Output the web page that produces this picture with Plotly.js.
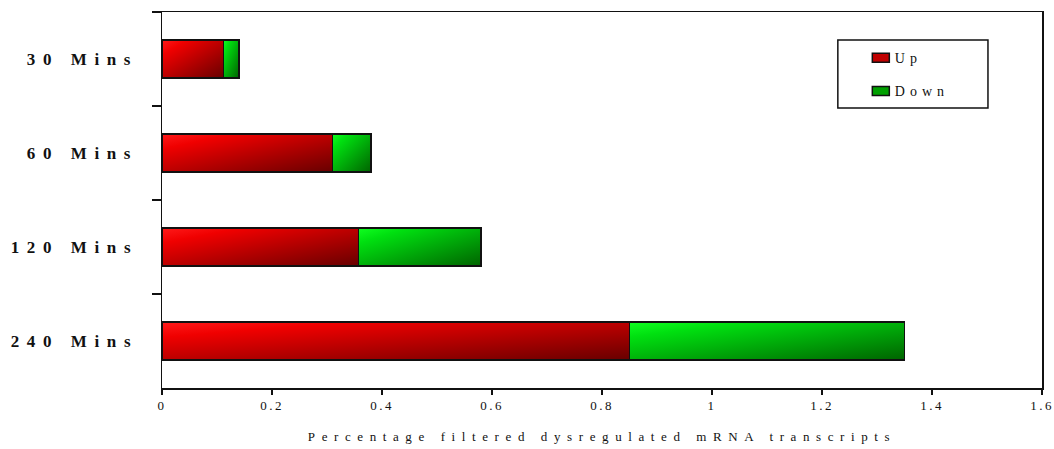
<!DOCTYPE html>
<html>
<head>
<meta charset="utf-8">
<script src="https://cdn.plot.ly/plotly-3.0.1.min.js"></script>
<style>
  html, body { margin: 0; padding: 0; background: #fff; }
  #chart { width: 1054px; height: 449px; }
  .ytick text { letter-spacing: 7.6px; }
  .xtick text { letter-spacing: 2.5px; }
  .xtitle { letter-spacing: 6.6px; }
  .legendtext { letter-spacing: 5px; }
</style>
</head>
<body>
<div id="chart"></div>
<script>
const categories = ["30 Mins", "60 Mins", "120 Mins", "240 Mins"];
const upValues = [0.112, 0.31, 0.357, 0.85];
const downValues = [0.028, 0.07, 0.223, 0.50];
const xTickValues = [0, 0.2, 0.4, 0.6, 0.8, 1, 1.2, 1.4, 1.6];
const xTickLabels = ["0", "0.2", "0.4", "0.6", "0.8", "1", "1.2", "1.4", "1.6"];

const serif = "Liberation Serif, DejaVu Serif, serif";

const traces = [
  {
    type: "bar", orientation: "h", name: "Up", legendgroup: "up",
    y: categories, x: upValues,
    marker: { color: "#c00000", line: { color: "#111", width: 1.5 } },
    hoverinfo: "none"
  },
  {
    type: "bar", orientation: "h", name: "Down", legendgroup: "down",
    y: categories, x: downValues,
    marker: { color: "#00a000", line: { color: "#111", width: 1.5 } },
    hoverinfo: "none"
  }
];

const layout = {
  width: 1054, height: 449,
  margin: { l: 162, r: 12, t: 12, b: 61 },
  paper_bgcolor: "#fff", plot_bgcolor: "#fff",
  barmode: "stack",
  bargap: 0.6,
  showlegend: true,
  legend: {
    x: 0.7873, y: 0.92, xanchor: "left", yanchor: "top",
    bgcolor: "rgba(0,0,0,0)", borderwidth: 0,
    traceorder: "grouped", tracegroupgap: 12,
    font: { family: serif, size: 14, color: "#111" }
  },
  xaxis: {
    range: [0, 1.6],
    tickvals: xTickValues, ticktext: xTickLabels,
    tickangle: 0, ticklabeloverflow: "allow",
    ticks: "outside", ticklen: 5, tickwidth: 1.5, tickcolor: "#111",
    showline: true, linecolor: "#111", linewidth: 1.5, mirror: true,
    showgrid: false, zeroline: false,
    tickfont: { family: serif, size: 13, color: "#111" },
    title: { text: "Percentage filtered dysregulated mRNA transcripts",
             font: { family: serif, size: 13, color: "#111" }, standoff: 20 }
  },
  yaxis: {
    type: "category",
    autorange: "reversed",
    tickson: "boundaries",
    ticks: "outside", ticklen: 9, tickwidth: 1.5, tickcolor: "#111",
    showline: true, linecolor: "#111", linewidth: 1.5, mirror: true,
    showgrid: false, zeroline: false,
    ticklabelstandoff: 19,
    tickfont: { family: serif, size: 17, color: "#111", weight: "bold" }
  },
  shapes: [
    { type: "rect", xref: "paper", yref: "paper",
      x0: 0.768, x1: 0.9386, y0: 0.7447, y1: 0.9255,
      line: { color: "#111", width: 1.5 }, fillcolor: "rgba(0,0,0,0)" }
  ]
};

Plotly.newPlot("chart", traces, layout, { staticPlot: true, displayModeBar: false }).then(function (gd) {
  const svgNS = "http://www.w3.org/2000/svg";
  const svg = gd.querySelector(".main-svg");
  let defs = svg.querySelector("defs");
  if (!defs) { defs = document.createElementNS(svgNS, "defs"); svg.insertBefore(defs, svg.firstChild); }
  function addGrad(id, stops) {
    const g = document.createElementNS(svgNS, "linearGradient");
    g.setAttribute("id", id);
    g.setAttribute("x1", "0"); g.setAttribute("y1", "0");
    g.setAttribute("x2", "1"); g.setAttribute("y2", "1");
    stops.forEach(function (s) {
      const st = document.createElementNS(svgNS, "stop");
      st.setAttribute("offset", s[0]);
      st.setAttribute("stop-color", s[1]);
      g.appendChild(st);
    });
    defs.appendChild(g);
  }
  addGrad("gradUp", [[0, "#ff1a1a"], [0.2, "#f00000"], [1, "#680000"]]);
  addGrad("gradDown", [[0, "#10ff20"], [0.2, "#00e010"], [1, "#006400"]]);
  const ids = ["gradUp", "gradDown"];
  gd.querySelectorAll(".barlayer .trace").forEach(function (t, i) {
    t.querySelectorAll("path").forEach(function (p) { p.style.fill = "url(#" + ids[i] + ")"; });
  });
  // reshape legend swatches to the wide, flat boxes of the original
  gd.querySelectorAll(".legend .legendpoints path").forEach(function (p) {
    p.setAttribute("d", "M14.5,4.5H-2.5V-4.5H14.5Z");
  });
});
</script>
</body>
</html>
